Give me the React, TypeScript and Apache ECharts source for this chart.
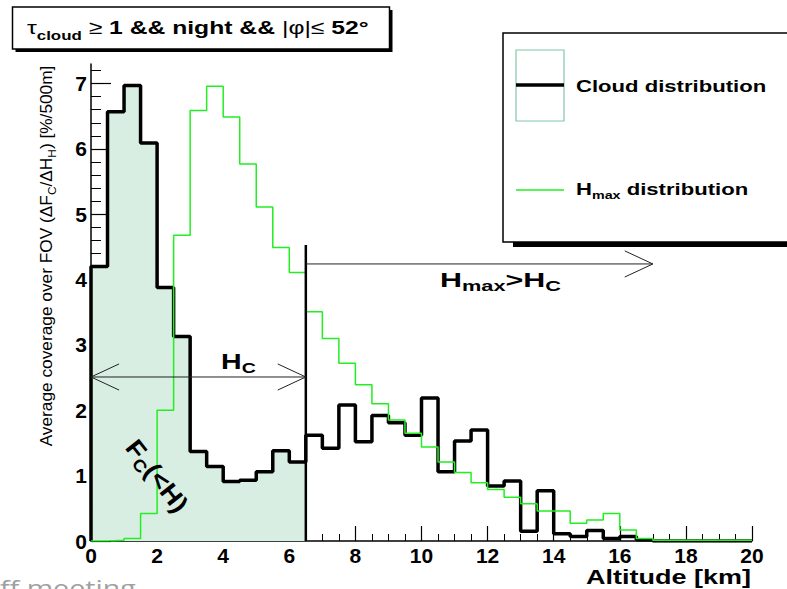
import React, { useEffect, useRef } from "react";
import * as echarts from "echarts";

// ---- data (bin width 0.5 km, 0..20 km) ----
const binWidth = 0.5;
const cloudValues = [
  4.2, 6.57, 6.97, 6.09, 3.88, 3.13, 1.37, 1.14, 0.91, 0.93,
  1.06, 1.38, 1.21, 1.62, 1.42, 2.08, 1.52, 1.92, 1.81, 1.62,
  2.19, 1.06, 1.53, 1.7, 0.84, 0.92, 0.15, 0.77, 0.11, 0.07,
  0.16, 0.04, 0.07, 0.02, 0, 0, 0, 0, 0, 0,
];
const hmaxValues = [
  0, 0.01, 0.04, 0.42, 2.0, 4.68, 6.59, 6.96, 6.49, 5.77,
  5.11, 4.49, 4.11, 3.51, 3.1, 2.72, 2.39, 2.1, 1.85, 1.65,
  1.44, 1.21, 1.05, 0.89, 0.79, 0.67, 0.57, 0.46, 0.46, 0.27,
  0.32, 0.42, 0.17, 0.04, 0.01, 0.01, 0.01, 0.01, 0.01, 0.01,
];
const shadedBins = 13; // 0 .. 6.5 km
const xTickLabels = [0, 2, 4, 6, 8, 10, 12, 14, 16, 18, 20];
const yTickLabels = [0, 1, 2, 3, 4, 5, 6, 7];
const yMax = 7.3;

// annotation geometry (data coordinates)
const hcAltitude = 6.5;
const hcLineTop = 4.53;
const upperArrowY = 4.24;
const upperArrowEnd = 17;
const hcArrowY = 2.51;

const yMinorTicks: number[] = [];
for (let i = 0; i <= 36; i++) yMinorTicks.push(Math.round(i * 0.2 * 10) / 10);

function stepPoints(values: number[], withBase: boolean) {
  const pts: number[][] = [];
  if (withBase) pts.push([0, 0]);
  values.forEach((v, i) => pts.push([i * binWidth, v]));
  pts.push([values.length * binWidth, values[values.length - 1]]);
  return pts;
}

const FONT = "Liberation Sans, Arial, Helvetica, sans-serif";
const GREEN = "#22ee22";

function lineSeries(data: number[][], color: string, width: number) {
  return {
    type: "line",
    data,
    symbol: "none",
    silent: true,
    lineStyle: { color, width },
    z: 5,
  };
}

const headLen = 0.85;
const headHalf = 0.2;

export default function App() {
  const ref = useRef<HTMLDivElement>(null);
  useEffect(() => {
    const chart = echarts.init(ref.current!, null, { renderer: "svg" });
    const option: any = {
      animation: false,
      backgroundColor: "#ffffff",
      grid: { left: 91, right: 35, top: 64, bottom: 48 },
      xAxis: {
        type: "value",
        min: 0,
        max: 20,
        interval: 2,
        axisLine: { lineStyle: { color: "#000", width: 1.5 } },
        axisTick: { inside: true, length: 15, lineStyle: { color: "#000", width: 1.2 } },
        minorTick: { show: true, splitNumber: 4, length: 7, lineStyle: { color: "#000", width: 1 } },
        splitLine: { show: false },
        axisLabel: {
          margin: 5,
          color: "#000",
          fontFamily: FONT,
          fontWeight: "bold",
          fontSize: 21,
          lineHeight: 18,
          customValues: xTickLabels,
        },
      },
      yAxis: [
        {
          type: "value",
          position: "left",
          min: 0,
          max: yMax,
          axisLine: { show: true, lineStyle: { color: "#000", width: 1.5 } },
          axisTick: {
            show: true,
            inside: true,
            length: 20,
            customValues: yTickLabels,
            lineStyle: { color: "#000", width: 1.2 },
          },
          splitLine: { show: false },
          axisLabel: {
            margin: 4,
            color: "#000",
            fontFamily: FONT,
            fontWeight: "bold",
            fontSize: 21,
            customValues: yTickLabels,
          },
        },
        {
          type: "value",
          position: "left",
          offset: 0,
          min: 0,
          max: yMax,
          axisLine: { show: false },
          axisTick: {
            show: true,
            inside: true,
            length: 10,
            customValues: yMinorTicks,
            lineStyle: { color: "#000", width: 1 },
          },
          splitLine: { show: false },
          axisLabel: { show: false },
        },
      ],
      series: [
        {
          type: "line",
          data: stepPoints(cloudValues.slice(0, shadedBins), false),
          step: "end",
          symbol: "none",
          silent: true,
          lineStyle: { width: 0 },
          areaStyle: { color: "#d9eee3", opacity: 1 },
          z: 1,
        },
        {
          ...lineSeries(stepPoints(cloudValues, true), "#000", 3.5),
          step: "end",
          z: 3,
        },
        {
          ...lineSeries(stepPoints(hmaxValues, true), GREEN, 1.5),
          step: "end",
          z: 4,
        },
        lineSeries([[hcAltitude, 0], [hcAltitude, hcLineTop]], "#000", 2.5),
        lineSeries([[hcAltitude, upperArrowY], [upperArrowEnd, upperArrowY]], "#222", 1),
        lineSeries(
          [
            [upperArrowEnd - headLen, upperArrowY + headHalf],
            [upperArrowEnd, upperArrowY],
            [upperArrowEnd - headLen, upperArrowY - headHalf],
          ],
          "#222",
          1
        ),
        lineSeries([[0, hcArrowY], [hcAltitude, hcArrowY]], "#222", 1),
        lineSeries(
          [
            [headLen, hcArrowY + headHalf],
            [0, hcArrowY],
            [headLen, hcArrowY - headHalf],
          ],
          "#222",
          1
        ),
        lineSeries(
          [
            [hcAltitude - headLen, hcArrowY + headHalf],
            [hcAltitude, hcArrowY],
            [hcAltitude - headLen, hcArrowY - headHalf],
          ],
          "#222",
          1
        ),
      ],
      graphic: [
        // title box
        { type: "rect", shape: { x: 15.5, y: 10, width: 377, height: 42 }, style: { fill: "#000" } },
        { type: "rect", shape: { x: 12.5, y: 7, width: 377, height: 42 }, style: { fill: "#fff", stroke: "#000", lineWidth: 1.5 } },
        {
          type: "text",
          x: 27,
          y: 28,
          scaleX: 1.3,
          style: {
            text: "{n|τ}{s|cloud}{n| ≥ }{b|1 && night && }{n||φ|≤ }{b|52°}",
            verticalAlign: "middle",
            rich: {
              n: { fontFamily: FONT, fontSize: 19, lineHeight: 28, fill: "#000", verticalAlign: "middle" },
              b: { fontFamily: FONT, fontSize: 19, fontWeight: "bold", lineHeight: 28, fill: "#000", verticalAlign: "middle" },
              s: { fontFamily: FONT, fontSize: 13, fontWeight: "bold", lineHeight: 13, fill: "#000", verticalAlign: "bottom" },
            },
          },
        },
        // legend box
        { type: "rect", shape: { x: 513, y: 241, width: 290, height: 6 }, style: { fill: "#000" } },
        { type: "rect", shape: { x: 503, y: 33, width: 300, height: 209 }, style: { fill: "#fff", stroke: "#000", lineWidth: 1.5 } },
        { type: "rect", shape: { x: 516, y: 50, width: 48, height: 71 }, style: { fill: "#fff", stroke: "#80c8a8", lineWidth: 1.2 } },
        { type: "line", shape: { x1: 516, y1: 85, x2: 564, y2: 85 }, style: { stroke: "#000", lineWidth: 3.5 } },
        {
          type: "text",
          x: 576,
          y: 86,
          scaleX: 1.3,
          style: {
            text: "Cloud distribution",
            font: `bold 17px ${FONT}`,
            fill: "#000",
            verticalAlign: "middle",
          },
        },
        { type: "line", shape: { x1: 516, y1: 190, x2: 564, y2: 190 }, style: { stroke: GREEN, lineWidth: 1.5 } },
        {
          type: "text",
          x: 576,
          y: 189,
          scaleX: 1.3,
          style: {
            text: "{b|H}{s|max}{b| distribution}",
            verticalAlign: "middle",
            rich: {
              b: { fontFamily: FONT, fontSize: 17, fontWeight: "bold", lineHeight: 24, fill: "#000", verticalAlign: "middle" },
              s: { fontFamily: FONT, fontSize: 11, fontWeight: "bold", lineHeight: 11, fill: "#000", verticalAlign: "bottom" },
            },
          },
        },
        // Hmax > Hc
        {
          type: "text",
          x: 440,
          y: 280,
          scaleX: 1.45,
          style: {
            text: "{b|H}{s|max}{b|>H}{s|C}",
            verticalAlign: "middle",
            rich: {
              b: { fontFamily: FONT, fontSize: 21, fontWeight: "bold", lineHeight: 26, fill: "#000", verticalAlign: "middle" },
              s: { fontFamily: FONT, fontSize: 15, fontWeight: "bold", lineHeight: 15, fill: "#000", verticalAlign: "bottom" },
            },
          },
        },
        // Hc
        {
          type: "text",
          x: 221,
          y: 361,
          scaleX: 1.3,
          style: {
            text: "{b|H}{s|C}",
            verticalAlign: "middle",
            rich: {
              b: { fontFamily: FONT, fontSize: 22, fontWeight: "bold", lineHeight: 28, fill: "#000", verticalAlign: "middle" },
              s: { fontFamily: FONT, fontSize: 15, fontWeight: "bold", lineHeight: 15, fill: "#000", verticalAlign: "bottom" },
            },
          },
        },
        // Fc(<H)
        {
          type: "text",
          x: 157,
          y: 476,
          rotation: (-52 * Math.PI) / 180,
          scaleX: 1.1,
          z: 10,
          style: {
            text: "{b|F}{s|C}{b|(<H)}",
            align: "center",
            verticalAlign: "middle",
            rich: {
              b: { fontFamily: FONT, fontSize: 25, fontWeight: "bold", lineHeight: 32, fill: "#000", verticalAlign: "middle" },
              s: { fontFamily: FONT, fontSize: 17, fontWeight: "bold", lineHeight: 17, fill: "#000", verticalAlign: "bottom" },
            },
          },
        },
        // y axis title
        {
          type: "text",
          x: 47,
          y: 256,
          rotation: Math.PI / 2,
          scaleX: 1.08,
          style: {
            text: "{n|Average coverage over FOV (ΔF}{s|C}{n|/ΔH}{s|H}{n|) [%/500m]}",
            align: "center",
            verticalAlign: "middle",
            rich: {
              n: { fontFamily: FONT, fontSize: 16, lineHeight: 22, fill: "#000", verticalAlign: "middle" },
              s: { fontFamily: FONT, fontSize: 11, lineHeight: 11, fill: "#000", verticalAlign: "bottom" },
            },
          },
        },
        // x axis title
        {
          type: "text",
          x: 751,
          y: 577,
          scaleX: 1.35,
          style: {
            text: "Altitude [km]",
            font: `bold 20px ${FONT}`,
            fill: "#000",
            align: "right",
            verticalAlign: "middle",
          },
        },
        // cut-off footer text
        {
          type: "text",
          x: 0,
          y: 576,
          scaleX: 1.3,
          style: {
            text: "ff meeting",
            font: `22px "Open Sans", sans-serif`,
            fill: "#a0a0a0",
            verticalAlign: "top",
          },
        },
      ],
    };
    chart.setOption(option);
    return () => chart.dispose();
  }, []);
  return (
    <div
      ref={ref}
      style={{ position: "absolute", left: 0, top: 0, width: 787, height: 589, background: "#fff" }}
    />
  );
}
